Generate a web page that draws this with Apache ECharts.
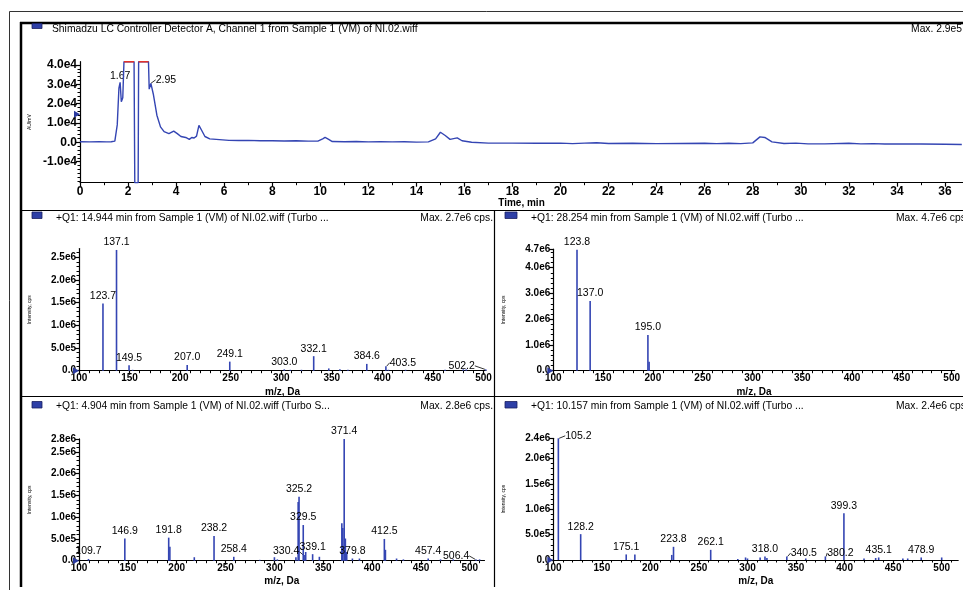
<!DOCTYPE html>
<html><head><meta charset="utf-8">
<script src="https://cdn.jsdelivr.net/npm/echarts@6/dist/echarts.min.js"></script>
<style>html,body{margin:0;padding:0;background:#fff}#c{width:963px;height:590px}</style>
</head><body><div id="c"></div>
<script>
// ================= DATA =================
const chromTitle = 'Shimadzu LC Controller Detector A, Channel 1 from Sample 1 (VM) of NI.02.wiff';
const chromMaxText = 'Max. 2.9e5';
const chromXName = 'Time, min';
const chromYName = 'AU/mV';
const chromTime = [0, 0.4, 0.8, 1.1, 1.3, 1.45, 1.55, 1.62, 1.67, 1.72, 1.78, 1.83, 2.25, 2.28, 2.42, 2.44, 2.85, 2.88, 2.95, 3.05,
  3.2, 3.35, 3.5, 3.7, 3.9, 4.05, 4.2, 4.4, 4.55, 4.65, 4.75, 4.85, 4.95, 5.05, 5.2, 5.4, 5.8, 6.2, 6.6, 7.0,
  7.5, 8.0, 8.5, 9.0, 9.5, 9.9, 10.1, 10.2, 10.35, 10.5, 11.0, 11.5, 12.0, 12.5, 13.0, 13.5, 14.0, 14.5, 14.8, 15.0,
  15.2, 15.4, 15.7, 15.9, 16.3, 17.0, 18.0, 19.0, 20.0, 20.5, 21.0, 21.5, 22.0, 23.0, 24.0, 25.0, 26.0, 26.5, 27.0, 27.5,
  28.0, 28.3, 28.5, 28.8, 29.3, 29.8, 30.3, 31.0, 32.0, 32.5, 33.0, 33.5, 34.0, 35.0, 36.0, 36.7];
const chromSignal = [300, 200, 300, 200, 300, 600, 9000, 28000, 31000, 21000, 23000, 41700, 41700, -20900, -20900, 41700, 41700, 27500, 30500, 25000,
  14000, 8000, 5500, 4500, 5800, 4500, 3000, 2500, 1500, 2500, 2200, 3200, 8800, 6500, 3000, 1800, 1400, 1000, 900, 1000,
  800, 800, 700, 800, 600, 600, 1800, 2500, 1500, 400, 300, 400, 200, 300, 200, 300, 100, 200, 1800, 5200,
  3500, 1500, 2300, 800, 0, -400, -400, -500, -400, -700, -400, -200, -600, -500, -700, -600, -500, -700, -500, -700,
  -300, 2800, 2500, 200, -600, -400, -800, -800, -500, -800, -700, -900, -800, -900, -1000, -1100];
const chromSaturation = 41700;   // detector saturation level (drawn red)
const chromPeakTimes = [1.67, 2.95];
const chromPeakSignal = [31000, 30500];
const chromXTicks = [0, 2, 4, 6, 8, 10, 12, 14, 16, 18, 20, 22, 24, 26, 28, 30, 32, 34, 36];
const chromYTicks = [-10000, 0, 10000, 20000, 30000, 40000];

const mzTicks = [100, 150, 200, 250, 300, 350, 400, 450, 500];
const specXName = 'm/z, Da';
const specYName = 'Intensity, cps';

const s1Title = '+Q1: 14.944 min from Sample 1 (VM) of NI.02.wiff (Turbo ...';
const s1MaxText = 'Max. 2.7e6 cps.';
const s1Mz  = [123.7, 137.1, 149.5, 153.0, 207.0, 249.1, 303.0, 309.0, 320.0, 332.1, 347.0, 358.0, 366.0, 384.6, 403.5, 406.0, 423.0, 462.0, 480.0, 483.0, 502.2];
const s1Int = [1.48e6, 2.66e6, 1.2e5, 2e4, 1.25e5, 2.0e5, 3e4, 2e4, 2e4, 3.2e5, 5e4, 3e4, 2e4, 1.5e5, 1.0e5, 2e4, 2e4, 2e4, 3e4, 3e4, 3e4];
const s1Labeled = [123.7, 137.1, 149.5, 207.0, 249.1, 303.0, 332.1, 384.6, 403.5, 502.2];
const s1YTicks = [0, 5e5, 1e6, 1.5e6, 2e6, 2.5e6];

const s2Title = '+Q1: 28.254 min from Sample 1 (VM) of NI.02.wiff (Turbo ...';
const s2MaxText = 'Max. 4.7e6 cps.';
const s2Mz  = [123.8, 137.0, 195.0, 196.2];
const s2Int = [4.70e6, 2.71e6, 1.39e6, 3.5e5];
const s2Labeled = [123.8, 137.0, 195.0];
const s2YTicks = [0, 1e6, 2e6, 3e6, 4e6, 4.7e6];

const s3Title = '+Q1: 4.904 min from Sample 1 (VM) of NI.02.wiff (Turbo S...';
const s3MaxText = 'Max. 2.8e6 cps.';
const s3Mz  = [109.7, 146.9, 191.8, 193.0, 218.0, 238.2, 258.4, 285.0, 300.0, 303.0, 322.0, 324.3, 325.2, 329.5, 330.4, 332.0, 339.1, 346.0,
  369.0, 370.0, 371.4, 372.6, 374.0, 379.8, 387.0, 412.5, 413.6, 425.0, 432.0, 457.4, 470.0, 483.0, 506.4, 510.0];
const s3Int = [4e4, 5.1e5, 5.3e5, 3.2e5, 8e4, 5.7e5, 9e4, 2e4, 8e4, 3e4, 8e4, 1.35e6, 1.47e6, 8.2e5, 1.3e5, 2.0e5, 1.5e5, 9e4,
  8.6e5, 7.5e5, 2.8e6, 5.1e5, 2.0e5, 5e4, 5e4, 5.0e5, 2.5e5, 5e4, 3e4, 5e4, 3e4, 3e4, 3e4, 3e4];
const s3Labeled = [109.7, 146.9, 191.8, 238.2, 258.4, 325.2, 329.5, 330.4, 339.1, 371.4, 379.8, 412.5, 457.4, 506.4];
const s3YTicks = [0, 5e5, 1e6, 1.5e6, 2e6, 2.5e6, 2.8e6];

const s4Title = '+Q1: 10.157 min from Sample 1 (VM) of NI.02.wiff (Turbo ...';
const s4MaxText = 'Max. 2.4e6 cps.';
const s4Mz  = [105.2, 128.2, 175.1, 184.0, 222.0, 223.8, 262.1, 290.0, 298.0, 300.0, 313.0, 318.0, 320.0, 340.5, 360.0, 380.2, 399.3, 420.0, 432.0, 435.1, 460.0, 465.0, 478.9, 500.0];
const s4Int = [2.4e6, 5.1e5, 1.1e5, 1.1e5, 1e5, 2.6e5, 2.0e5, 2e4, 5e4, 3e4, 5e4, 7e4, 4e4, 7e4, 3e4, 7e4, 9.2e5, 3e4, 4e4, 5e4, 3e4, 3e4, 5e4, 5e4];
const s4Labeled = [105.2, 128.2, 175.1, 223.8, 262.1, 318.0, 340.5, 380.2, 399.3, 435.1, 478.9];
const s4YTicks = [0, 5e5, 1e6, 1.5e6, 2e6, 2.4e6];

// ================= STYLE / LAYOUT =================
const FONT = '"Liberation Sans", Arial, sans-serif';
const BLUE = '#3445b3';
const RED = '#e3322b';
const fmtExp = v => v === 0 ? '0.0' : v.toExponential(1).replace('e+', 'e');
const zip = (a, b) => a.map((v, i) => [v, b[i]]);
function steps(a, b, s) { const o = []; const k0 = Math.ceil(a / s - 1e-9); for (let k = k0; k * s <= b + 1e-9; k++) o.push(+(k * s).toFixed(6)); return o; }

const panels = [
  { grid: { left: 80, top: 61.7, width: 883, height: 121 }, x: [0, 36.75], y: [-20900, 41700],
    xt: chromXTicks, yt: chromYTicks, xm: 1, ym: 2000, xName: chromXName, yName: chromYName, xGap: 16, lblSize: 12 },
  { grid: { left: 79, top: 248.6, width: 407, height: 122.1 }, x: [100, 502.5], y: [0, 2.69e6],
    xt: mzTicks, yt: s1YTicks, xm: 10, ym: 1e5, xName: specXName, yName: specYName, xGap: 17, lblSize: 10 },
  { grid: { left: 553.3, top: 249.2, width: 404.6, height: 121.5 }, x: [100, 503], y: [0, 4.72e6],
    xt: mzTicks, yt: s2YTicks, xm: 10, ym: 2e5, xName: specXName, yName: specYName, xGap: 17, lblSize: 10 },
  { grid: { left: 79, top: 438.9, width: 405.5, height: 121.8 }, x: [100, 515], y: [0, 2.8e6],
    xt: mzTicks, yt: s3YTicks, xm: 10, ym: 1e5, xName: specXName, yName: specYName, xGap: 16, lblSize: 10 },
  { grid: { left: 553.3, top: 438.3, width: 404.9, height: 121.7 }, x: [100, 517], y: [0, 2.4e6],
    xt: mzTicks, yt: s4YTicks, xm: 10, ym: 1e5, xName: specXName, yName: specYName, xGap: 16, lblSize: 10 }
];

const grids = [], xAxes = [], yAxes = [];
panels.forEach((p, i) => {
  grids.push(Object.assign({ containLabel: false }, p.grid));
  const lbl = { fontSize: p.lblSize, fontWeight: 'bold', color: '#000', fontFamily: FONT };
  xAxes.push({ type: 'value', gridIndex: i, position: 'bottom', min: p.x[0], max: p.x[1],
    axisLine: { show: true, onZero: false, lineStyle: { color: '#000', width: 1.2 } },
    axisTick: { show: true, length: 4, customValues: p.xt, lineStyle: { color: '#000', width: 1.2 } },
    axisLabel: Object.assign({ customValues: p.xt, margin: 3 }, lbl),
    splitLine: { show: false },
    name: p.xName, nameLocation: 'middle', nameGap: p.xGap,
    nameTextStyle: { fontSize: 10, fontWeight: 'bold', color: '#000', fontFamily: FONT } });
  xAxes.push({ type: 'value', gridIndex: i, position: 'bottom', offset: 0, min: p.x[0], max: p.x[1],
    axisLine: { show: false, onZero: false }, axisLabel: { show: false }, splitLine: { show: false },
    axisTick: { show: true, length: 2.5, customValues: steps(p.x[0], p.x[1], p.xm), lineStyle: { color: '#000', width: 1 } } });
  yAxes.push({ type: 'value', gridIndex: i, position: 'left', min: p.y[0], max: p.y[1],
    axisLine: { show: true, onZero: false, lineStyle: { color: '#000', width: 1.2 } },
    axisTick: { show: true, length: 4, customValues: p.yt, lineStyle: { color: '#000', width: 1.2 } },
    axisLabel: Object.assign({ customValues: p.yt, margin: 3, formatter: fmtExp }, lbl),
    splitLine: { show: false },
    name: p.yName, nameLocation: 'middle', nameGap: 47, nameRotate: 90,
    nameTextStyle: { fontSize: 5, color: '#000', fontFamily: FONT } });
  yAxes.push({ type: 'value', gridIndex: i, position: 'left', offset: 0, min: p.y[0], max: p.y[1],
    axisLine: { show: false, onZero: false }, axisLabel: { show: false }, splitLine: { show: false },
    axisTick: { show: true, length: 2.5, customValues: steps(p.y[0], p.y[1], p.ym), lineStyle: { color: '#000', width: 1 } } });
});

const triangle = (x, y) => ({ symbol: 'triangle', symbolSize: [7, 6], symbolRotate: -90, symbolOffset: [-3, 0], silent: true,
  itemStyle: { color: '#2a3aa0' }, label: { show: false }, data: [{ xAxis: x, yAxis: y }] });

const peakLabel = { fontSize: 10.5, color: '#000', fontFamily: FONT };

// label shifts (dx, dy) for labels drawn with a leader line
const shifts = [
  { 403.5: [17, 4], 502.2: [-24, 4] },
  {},
  { 330.4: [-18, 4], 506.4: [-20, 4] },
  { 105.2: [20, 5], 340.5: [17, 4], 380.2: [15, 4] }
];

function specSeries(idx, mz, inten, labeled) {
  const sh = shifts[idx - 1];
  return {
    type: 'bar', xAxisIndex: idx * 2, yAxisIndex: idx * 2, barWidth: 1.6, barGap: '-100%',
    itemStyle: { color: BLUE },
    data: mz.map((m, i) => {
      const it = { value: [m, inten[i]] };
      if (labeled.includes(m)) {
        it.label = { show: true };
        if (sh[m]) it.labelLine = { show: true };
      }
      return it;
    }),
    label: Object.assign({ show: false, position: 'top', distance: 2, formatter: p => p.value[0].toFixed(1) }, peakLabel),
    labelLine: { show: false, lineStyle: { color: '#000', width: 0.8 } },
    labelLayout: (params) => {
      const m = mz[params.dataIndex];
      return sh[m] ? { dx: sh[m][0], dy: sh[m][1] } : {};
    },
    markPoint: triangle(100, 0),
    animation: false
  };
}

const chromPts = zip(chromTime, chromSignal);
const satPts = chromPts.map(d => d[1] >= chromSaturation ? d : '-');

const series = [
  { type: 'line', xAxisIndex: 0, yAxisIndex: 0, data: chromPts, showSymbol: false, symbol: 'none',
    lineStyle: { width: 1.4, color: BLUE }, itemStyle: { color: BLUE }, clip: true, animation: false, markPoint: triangle(0, 14500) },
  { type: 'line', xAxisIndex: 0, yAxisIndex: 0, data: satPts, showSymbol: false, symbol: 'none', connectNulls: false,
    lineStyle: { width: 1.6, color: RED }, clip: false, animation: false },
  { type: 'scatter', xAxisIndex: 0, yAxisIndex: 0, symbolSize: 0, itemStyle: { color: BLUE, opacity: 1 },
    data: zip(chromPeakTimes, chromPeakSignal).map((d, i) => ({ value: d, labelLine: { show: i === 1 } })),
    label: Object.assign({ show: true, position: 'top', distance: 1, formatter: p => p.value[0].toFixed(2) }, peakLabel),
    labelLine: { show: false, lineStyle: { color: '#000', width: 0.8 } },
    labelLayout: (params) => params.dataIndex === 1 ? { dx: 15, dy: 3 } : {},
    animation: false },
  specSeries(1, s1Mz, s1Int, s1Labeled),
  specSeries(2, s2Mz, s2Int, s2Labeled),
  specSeries(3, s3Mz, s3Int, s3Labeled),
  specSeries(4, s4Mz, s4Int, s4Labeled)
];

const tStyle = { fontSize: 10.3, fontWeight: 'normal', color: '#000', fontFamily: FONT };
const titles = [
  { text: chromTitle, left: 52, top: 24.5 },
  { text: chromMaxText, right: 1, top: 24.5 },
  { text: s1Title, left: 56, top: 213.5 },
  { text: s1MaxText, right: 470, top: 213.5 },
  { text: s2Title, left: 531, top: 213.5 },
  { text: s2MaxText, left: 896, top: 213.5 },
  { text: s3Title, left: 56, top: 401.5 },
  { text: s3MaxText, right: 470, top: 401.5 },
  { text: s4Title, left: 531, top: 401.5 },
  { text: s4MaxText, left: 896, top: 401.5 }
].map(t => Object.assign({ padding: 0, textStyle: tStyle }, t));

const ln = (x1, y1, x2, y2, w, c) => ({ type: 'line', silent: true, shape: { x1, y1, x2, y2 }, style: { stroke: c || '#000', lineWidth: w } });
const sq = (x, y, w, h) => ({ type: 'rect', silent: true, shape: { x, y, width: w, height: h }, style: { fill: '#2e3fa6', stroke: '#1a2060', lineWidth: 0.8 } });
const graphic = [
  ln(9.5, 11.5, 963, 11.5, 1, '#333'),
  ln(9.5, 11.5, 9.5, 590, 1, '#333'),
  ln(20, 23, 963, 23, 2.5),
  ln(21, 22, 21, 587, 2.5),
  ln(21, 210.5, 963, 210.5, 1.2),
  ln(21, 396.5, 963, 396.5, 1.2),
  ln(494.5, 210.5, 494.5, 587, 1.2),
  sq(32, 23.5, 10, 5),
  sq(32, 212, 10, 6.5),
  sq(505, 212, 12, 6.5),
  sq(32, 401.5, 10, 6.5),
  sq(505, 401.5, 12, 6.5)
];

const chart = echarts.init(document.getElementById('c'));
chart.setOption({
  backgroundColor: '#fff',
  animation: false,
  title: titles,
  grid: grids,
  xAxis: xAxes,
  yAxis: yAxes,
  series,
  graphic
});
</script></body></html>
